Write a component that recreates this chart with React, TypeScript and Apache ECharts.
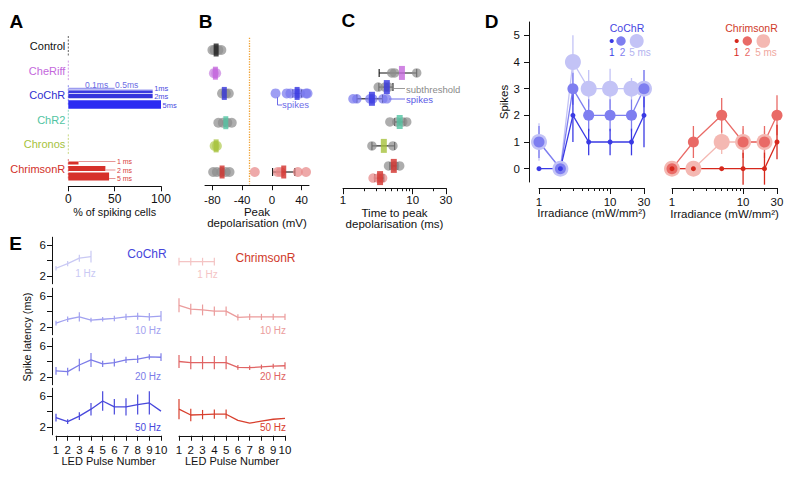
import React, { useEffect, useRef } from "react";
import * as echarts from "echarts";

const FONT = '"Liberation Sans", Arial, Helvetica, sans-serif';
const lg = (v: number) => Math.log10(v);

/* ======================= DATA ======================= */
// Panel A – % of spiking cells
const constructs = ["Control", "CheRiff", "CoChR", "ChR2", "Chronos", "ChrimsonR"];
const spikingPctTicks = [0, 50, 100];
const cochrPulseLabels = ["0.1ms", "0.5ms", "1ms", "2ms", "5ms"];
const cochrSpikingPct = [50, 91, 91, 91, 100];
const chrimsonPulseLabels = ["1 ms", "2 ms", "5 ms"];
const chrimsonSpikingPct = [11, 40, 44];

// Panel B – peak depolarisation (mV)
const peakTicks = [-80, -40, 0, 40];
const spikeThresholdMV = -30;
const peakCellsControl = [-80, -77, -72, -68];
const peakCellsCheRiff = [-78, -75];
const peakCellsCoChR = [-67, -62, -58];
const peakCellsChR2 = [-72, -66, -60, -54];
const peakCellsChronos = [-77, -74];
const peakCellsChrimsonR = [-79, -74, -68, -62, -57];
const peakMean = [-75, -76, -64, -62, -75, -67];
const cochrSpikePeakCells = [5, 20, 25, 33, 38, 46, 48];
const cochrSpikePeakMean = 34;
const cochrSpikePeakSem = [28, 40];
const chrimsonSpikePeakCells = [-23, 8, 12, 35, 46];
const chrimsonSpikePeakMean = 16;
const chrimsonSpikePeakSem = [1, 31];

// Panel C – time to peak depolarisation (ms)
const timeGroups = ["CheRiff", "CoChR subthreshold", "CoChR spikes", "ChR2", "Chronos", "ChrimsonR subthreshold", "ChrimsonR spikes"];
const timeCells = [
  [5.0, 5.5, 11.4],
  [3.2, 4.0, 4.5],
  [1.39, 1.58, 2.43, 2.68, 3.73, 4.25],
  [4.7, 5.9, 7.2, 8.2],
  [2.6, 5.2],
  [4.5, 5.5, 6.5],
  [2.7, 3.2, 3.7],
];
const timeMean = [7.0, 4.25, 2.6, 6.5, 3.85, 5.35, 3.4];
const timeLow = [3.3, 3.27, 1.58, 5.5, 2.6, 4.7, 2.86];
const timeHigh = [11.4, 5.2, 3.7, 7.7, 5.5, 6.1, 3.85];
const logTickLabels = [1, 10, 30];
const logMinorTicks = [2, 3, 4, 5, 6, 7, 8, 9, 20];

// Panel D – spikes vs irradiance
const spikeTicks = [0, 1, 2, 3, 4, 5];
const irradianceCoChR = [1, 2, 3, 5, 10, 20, 30];
const cochrSpikes1ms = [0, 0, 2, 1, 1, 1, 2];
const cochrSpikes1msErr = [0, 0, 1, 0.5, 0.5, 0.5, 1.2];
const cochrSpikes2ms = [1, 0, 3, 2, 2, 2, 3];
const cochrSpikes2msErr = [0.6, 0, 0.6, 0.6, 0.6, 0.6, 0.7];
const cochrSpikes5ms = [1, 0, 4, 3, 3, 3, 3];
const cochrSpikes5msErr = [0.7, 0, 1, 0.7, 0.75, 0.4, 0.7];
const irradianceChrimson = [1, 2, 5, 10, 20, 30];
const chrimsonSpikes1ms = [0, 0, 0, 0, 0, 1];
const chrimsonSpikes1msErr = [0, 0, 0, 0.6, 0.6, 0.65];
const chrimsonSpikes2ms = [0, 1, 2, 1, 1, 2];
const chrimsonSpikes2msErr = [0, 0.6, 0.65, 0.6, 0.6, 0.75];
const chrimsonSpikes5ms = [0, 0, 1, 1, 1, null];
const chrimsonSpikes5msErr = [0, 0, 0.45, 0.5, 0.4, 0];

// Panel E – spike latency (ms) vs LED pulse number
const latencyTicks = [2, 4, 6];
const latencyTickLabels = [2, 6];
const pulseNumbers = [1, 2, 3, 4, 5, 6, 7, 8, 9, 10];
const frequencies = ["1 Hz", "10 Hz", "20 Hz", "50 Hz"];
const cochrLat1Hz = [3.0, 3.6, 4.3, 4.5];
const cochrLat1HzErr = [0.3, 0.35, 0.45, 0.75];
const cochrLat10Hz = [2.5, 3.0, 3.3, 2.9, 3.0, 3.1, 3.3, 3.4, 3.3, 3.4];
const cochrLat10HzErr = [0.3, 0.35, 0.6, 0.3, 0.3, 0.35, 0.4, 0.45, 0.5, 0.65];
const cochrLat20Hz = [2.8, 2.7, 3.55, 4.2, 3.7, 3.85, 4.2, 4.3, 4.6, 4.55];
const cochrLat20HzErr = [0.5, 0.5, 0.8, 0.9, 0.4, 0.5, 0.4, 0.5, 0.35, 0.5];
const cochrLat50Hz = [3.2, 2.7, 3.4, 4.3, 5.35, 4.6, 4.6, 4.9, 5.1, 4.05];
const cochrLat50HzErr = [0.5, 0.3, 0.5, 0.8, 1.25, 1.0, 1.1, 1.3, 1.5, 0];
const chrimsonLat1Hz = [3.85, 3.85, 3.85, 3.85];
const chrimsonLat1HzErr = [0.5, 0.5, 0.5, 0.5];
const chrimsonLat10Hz = [4.8, 4.3, 4.2, 4.05, 4.05, 3.25, 3.3, 3.3, 3.3, 3.3];
const chrimsonLat10HzErr = [0.9, 0.7, 0.7, 0.6, 0.6, 0.4, 0.4, 0.4, 0.4, 0.4];
const chrimsonLat20Hz = [4.0, 3.85, 3.85, 3.85, 3.85, 3.25, 3.2, 3.3, 3.4, 3.45];
const chrimsonLat20HzErr = [0.85, 0.85, 0.85, 0.85, 0.85, 0.3, 0.3, 0.3, 0.3, 0.45];
const chrimsonLat50Hz = [4.3, 3.55, 3.6, 3.65, 3.65, 2.85, 2.5, 2.75, 3.0, 3.1];
const chrimsonLat50HzErr = [1.3, 0.8, 0.6, 0.6, 0.6, 0, 0, 0, 0, 0];

/* ======================= STYLE / LAYOUT ======================= */
const INK = "#111";
const constructColors = ["#1c1c1c", "#c467dc", "#3434d8", "#52c4a2", "#a6c23c", "#d2302a"];
const constructLabelColors = ["#111", "#c467dc", "#3030d0", "#52c4a2", "#a6c23c", "#d2302a"];
const rowDashColors = ["#666", "#d49ae6", "#8c8cee", "#8fd8c2", "#c8d880", "#e08080"];
const peakDotColors = ["#8e8e8e", "#c982e0", "#8e8e8e", "#8e8e8e", "#b3cc55", "#8e8e8e"];
const peakRowPos = [0, 0.95, 1.78, 2.98, 3.93, 5.0];
const GREY_DOT = "#8e8e8e";
const LIGHT_BLUE_DOT = "#7878ee";
const LIGHT_RED_DOT = "#e88888";
const timeRowPos = [0.94, 1.52, 2.0, 2.95, 3.93, 4.75, 5.25];
const timeDotColors = [GREY_DOT, GREY_DOT, LIGHT_BLUE_DOT, GREY_DOT, GREY_DOT, GREY_DOT, LIGHT_RED_DOT];
const timeMeanColors = ["#c467dc", "#3434e0", "#3434e0", "#52c4a2", "#a6c23c", "#d2302a", "#d2302a"];

const cochrBarLayout = [
  { dy: -6.7, h: 1.5, color: "#9c9cf0", labelAt: 18, labelDy: -10.5, labelColor: "#6c6ce4", size: 8.5 },
  { dy: -5.0, h: 1.5, color: "#9c9cf0", labelAt: 50.5, labelDy: -10, labelColor: "#6c6ce4", size: 8.5 },
  { dy: -3.2, h: 2.6, color: "#3a3ae0", labelAt: null, labelDy: -7.2, labelColor: "#4a4ae0", size: 7.5 },
  { dy: 0.9, h: 4.2, color: "#3434dc", labelAt: null, labelDy: 1.6, labelColor: "#4a4ae0", size: 7.5 },
  { dy: 9.3, h: 8.5, color: "#2a2af2", labelAt: null, labelDy: 10.4, labelColor: "#4a4ae0", size: 7.5 },
];
const chrimsonBarLayout = [
  { dy: -6, h: 3, color: "#d6302a", labelAt: 52.5, labelDy: -7.5, labelColor: "#d84040", leader: true, size: 7 },
  { dy: -0.5, h: 5, color: "#d6302a", labelAt: 52.5, labelDy: 1.0, labelColor: "#d84040", leader: true, size: 7 },
  { dy: 7.5, h: 8, color: "#d6302a", labelAt: 52.5, labelDy: 9.5, labelColor: "#d84040", leader: true, size: 7 },
];

const cochrDurColors = ["#3a3ae4", "#7e7ef0", "#c3c3f6"];
const chrimsonDurColors = ["#d6281c", "#e96a66", "#f4b8b2"];
const durSymbolSizes = [5, 11, 16];
const cochrFreqColors = ["#c9c9f4", "#a2a2f0", "#7c7ce8", "#4848dc"];
const chrimsonFreqColors = ["#f4c4c4", "#eb9c9c", "#e06464", "#d8402e"];
const E_TOPS = [237.25, 288.25, 338.25, 388.25];
const E_LABEL_Y = [273.7, 330, 376.7, 427];

/* ======================= HELPERS ======================= */
const f = (size: number, weight = "normal") => `${weight} ${size}px ${FONT}`;
const lineSt = { color: INK, width: 1 };
const nameSt = (size = 11) => ({ color: INK, fontFamily: FONT, fontSize: size, lineHeight: 11 });
const lblSt = (extra: any = {}) => ({ color: INK, fontFamily: FONT, fontSize: 11, ...extra });
const axLine = (show = true) => ({ show, onZero: false, lineStyle: lineSt });
const X = (o: any) => ({ position: "bottom", ...o });
const Y = (o: any) => ({ position: "left", ...o });

const hiddenAxis = (gridIndex: number, min: number, max: number, inverse = false) => ({
  type: "value", gridIndex, min, max, inverse, show: false, position: "left",
  axisLine: axLine(false),
  splitLine: { show: false },
});

const logAxis = (gridIndex: number, name: string, offset: number, margin: number, nameGap: number) => X({
  type: "value", gridIndex, min: 0, max: lg(30), offset,
  axisLine: axLine(true),
  axisTick: { show: true, length: 6, lineStyle: lineSt, customValues: logTickLabels.map(lg) },
  axisLabel: {
    ...lblSt({ fontSize: 11.5, margin }),
    customValues: logTickLabels.map(lg),
    formatter: (v: number) => String(Math.round(Math.pow(10, v))),
  },
  splitLine: { show: false },
  name, nameLocation: "middle", nameGap, nameTextStyle: nameSt(11.5), nameMoveOverlap: false,
});
const minorLogAxis = (gridIndex: number, offset: number) => X({
  type: "value", gridIndex, min: 0, max: lg(30), offset,
  axisLine: axLine(false),
  axisTick: { show: true, length: 3, lineStyle: lineSt, customValues: logMinorTicks.map(lg) },
  axisLabel: { show: false },
  splitLine: { show: false },
});

const hErr = (color: string) => (params: any, api: any) => {
  const a = api.coord([api.value(0), api.value(2)]);
  const b = api.coord([api.value(1), api.value(2)]);
  const st = { stroke: color, lineWidth: 1.1 };
  return {
    type: "group",
    children: [
      { type: "line", shape: { x1: a[0], y1: a[1], x2: b[0], y2: b[1] }, style: st },
      { type: "line", shape: { x1: a[0], y1: a[1] - 4, x2: a[0], y2: a[1] + 4 }, style: st },
      { type: "line", shape: { x1: b[0], y1: b[1] - 4, x2: b[0], y2: b[1] + 4 }, style: st },
    ],
  };
};
const vErr = (color: string, width = 1.2) => (params: any, api: any) => {
  const a = api.coord([api.value(0), api.value(1)]);
  const b = api.coord([api.value(0), api.value(2)]);
  return { type: "line", shape: { x1: a[0], y1: a[1], x2: b[0], y2: b[1] }, style: { stroke: color, lineWidth: width } };
};
const errData = (xs: number[], ys: (number | null)[], es: number[], tx = (v: number) => v) =>
  xs.map((x, i) => (ys[i] == null || !es[i] ? null : [tx(x), (ys[i] as number) - es[i], (ys[i] as number) + es[i]]))
    .filter(Boolean);
const lineData = (xs: number[], ys: (number | null)[], tx = (v: number) => v) =>
  xs.map((x, i) => (ys[i] == null ? null : [tx(x), ys[i]])).filter(Boolean);

const txt = (text: string, x: number, y: number, size: number, fill: string, align = "center", extra: any = {}) => ({
  type: "text", x, y, silent: true,
  style: { text, fill, font: f(size, extra.weight || "normal"), align, textAlign: align, verticalAlign: "middle", textVerticalAlign: "middle" },
  ...(extra.rotation ? { rotation: extra.rotation } : {}),
});

/* ======================= OPTION ======================= */
function buildOption() {
  const grids: any[] = [
    { left: 68.3, top: 33.7, width: 92.7, height: 147.6 },
    { left: 205, top: 37.8, width: 104, height: 146.4 },
    { left: 343, top: 37.8, width: 103, height: 146.4 },
    { left: 343, top: 37.8, width: 103, height: 146.4 },
    { left: 539, top: 22, width: 105, height: 160 },
    { left: 539, top: 22, width: 105, height: 160 },
    { left: 672, top: 22, width: 105, height: 160 },
    { left: 672, top: 22, width: 105, height: 160 },
    ...E_TOPS.map((t) => ({ left: 56, top: t, width: 105, height: 46.5 })),
    ...E_TOPS.map((t) => ({ left: 179, top: t, width: 106, height: 46.5 })),
  ].map((g) => ({ ...g, containLabel: false, outerBoundsMode: "none", show: false }));

  const xAxis: any[] = [
    X({
      type: "value", gridIndex: 0, min: 0, max: 100, interval: 50, offset: 5,
      axisLine: axLine(true),
      axisTick: { show: true, length: 5, lineStyle: lineSt },
      axisLabel: lblSt({ fontSize: 12, margin: 7, customValues: spikingPctTicks }),
      splitLine: { show: false },
      name: "% of spiking cells", nameLocation: "middle", nameGap: 20, nameTextStyle: nameSt(10.8), nameMoveOverlap: false,
    }),
    X({
      type: "value", gridIndex: 1, min: -90, max: 50, offset: 1,
      axisLine: axLine(true),
      axisTick: { show: true, length: 5, lineStyle: lineSt, customValues: peakTicks },
      axisLabel: { ...lblSt({ fontSize: 11.5, margin: 9 }), customValues: peakTicks },
      splitLine: { show: false },
      name: "Peak\ndepolarisation (mV)", nameLocation: "middle", nameGap: 21, nameTextStyle: nameSt(11.5), nameMoveOverlap: false,
    }),
    logAxis(2, "Time to peak\ndepolarisation (ms)", 4, 6, 19),
    minorLogAxis(3, 4),
    logAxis(4, "Irradiance (mW/mm²)", 6, 8, 19),
    minorLogAxis(5, 6),
    logAxis(6, "Irradiance (mW/mm²)", 6, 8, 20),
    minorLogAxis(7, 6),
  ];
  for (let k = 0; k < 8; k++) {
    const bottom = k === 3 || k === 7;
    xAxis.push(X({
      type: "value", gridIndex: 8 + k, min: 1, max: 10, interval: 1, offset: 1,
      show: bottom,
      axisLine: axLine(true),
      axisTick: { show: true, length: 5, lineStyle: lineSt },
      axisLabel: lblSt({ fontSize: 11.5, margin: 8 }),
      splitLine: { show: false },
      ...(bottom ? { name: "LED Pulse Number", nameLocation: "middle", nameGap: 20, nameTextStyle: nameSt(11), nameMoveOverlap: false } : {}),
    }));
  }

  const yAxis: any[] = [
    Y({
      type: "category", gridIndex: 0, data: constructs, inverse: true,
      axisLine: axLine(false), axisTick: { show: false }, splitLine: { show: false },
      axisLabel: { fontFamily: FONT, fontSize: 11, margin: 3, color: (v: any, i: number) => constructLabelColors[i] },
    }),
    hiddenAxis(1, -0.5, 5.5, true),
    hiddenAxis(2, -0.5, 5.5, true),
    hiddenAxis(3, -0.5, 5.5, true),
    Y({
      type: "value", gridIndex: 4, min: -0.5, max: 5.5, offset: 10,
      axisLine: axLine(true),
      axisTick: { show: true, length: 5, lineStyle: lineSt, customValues: spikeTicks },
      axisLabel: { ...lblSt({ fontSize: 11.5, margin: 9 }), customValues: spikeTicks },
      splitLine: { show: false },
      name: "Spikes", nameLocation: "middle", nameGap: 20, nameTextStyle: nameSt(11.5), nameMoveOverlap: false,
    }),
    hiddenAxis(5, -0.5, 5.5),
    hiddenAxis(6, -0.5, 5.5),
    hiddenAxis(7, -0.5, 5.5),
  ];
  for (let k = 0; k < 8; k++) {
    const left = k < 4;
    yAxis.push(Y({
      type: "value", gridIndex: 8 + k, min: 1, max: 7, offset: 4, show: left,
      axisLine: axLine(true),
      axisTick: { show: true, length: 5, lineStyle: lineSt, customValues: latencyTicks },
      axisLabel: { ...lblSt({ fontSize: 11.5, margin: 6 }), customValues: latencyTickLabels },
      splitLine: { show: false },
    }));
  }

  const series: any[] = [];

  /* ---------- Panel A ---------- */
  series.push({
    type: "custom", xAxisIndex: 0, yAxisIndex: 0, silent: true,
    data: constructs.map((_, i) => [0, i]),
    renderItem: (p: any, api: any) => {
      const pt = api.coord([api.value(0), api.value(1)]);
      return {
        type: "line", shape: { x1: pt[0], y1: pt[1] - 10, x2: pt[0], y2: pt[1] + 10 },
        style: { stroke: rowDashColors[p.dataIndex], lineWidth: 1, lineDash: [2, 1.5] },
      };
    },
  });
  const aBars = [
    ...cochrSpikingPct.map((v, i) => ({ value: v, row: 2, label: cochrPulseLabels[i], st: cochrBarLayout[i] as any })),
    ...chrimsonSpikingPct.map((v, i) => ({ value: v, row: 5, label: chrimsonPulseLabels[i], st: chrimsonBarLayout[i] as any })),
  ];
  series.push({
    type: "custom", xAxisIndex: 0, yAxisIndex: 0, silent: true,
    data: aBars.map((b) => [b.value, b.row]),
    renderItem: (p: any, api: any) => {
      const it = aBars[p.dataIndex];
      const base = api.coord([0, it.row]);
      const end = api.coord([it.value, it.row]);
      const y = base[1] + it.st.dy;
      const ly = base[1] + it.st.labelDy;
      const children: any[] = [
        { type: "rect", shape: { x: base[0], y: y - it.st.h / 2, width: end[0] - base[0], height: it.st.h }, style: { fill: it.st.color } },
      ];
      const lx = it.st.labelAt != null ? api.coord([it.st.labelAt, it.row])[0] : end[0] + 1.5;
      if (it.st.leader) {
        children.push({ type: "line", shape: { x1: end[0], y1: ly, x2: lx - 1.5, y2: ly }, style: { stroke: "#e07a7a", lineWidth: 0.8 } });
      }
      children.push({
        type: "text",
        style: { text: it.label, x: lx, y: ly, fill: it.st.labelColor, font: f(it.st.size), align: "left", verticalAlign: "middle" },
      });
      return { type: "group", children };
    },
  });

  /* ---------- Panel B ---------- */
  const peakCells = [peakCellsControl, peakCellsCheRiff, peakCellsCoChR, peakCellsChR2, peakCellsChronos, peakCellsChrimsonR];
  const bDots: any[] = [];
  peakCells.forEach((cells, r) => cells.forEach((v) => bDots.push({ value: [v, peakRowPos[r]], itemStyle: { color: peakDotColors[r] } })));
  cochrSpikePeakCells.forEach((v) => bDots.push({ value: [v, peakRowPos[2]], itemStyle: { color: LIGHT_BLUE_DOT } }));
  chrimsonSpikePeakCells.forEach((v) => bDots.push({ value: [v, peakRowPos[5]], itemStyle: { color: LIGHT_RED_DOT } }));
  series.push({
    type: "scatter", xAxisIndex: 1, yAxisIndex: 1, silent: true, symbolSize: 10,
    itemStyle: { opacity: 0.72 }, data: bDots,
    markLine: {
      silent: true, symbol: "none", label: { show: false },
      lineStyle: { type: "dotted", color: "#f0a030", width: 1.3 },
      data: [{ xAxis: spikeThresholdMV }],
    },
  });
  series.push({
    type: "custom", xAxisIndex: 1, yAxisIndex: 1, silent: true,
    data: [
      [cochrSpikePeakSem[0], cochrSpikePeakSem[1], peakRowPos[2]],
      [chrimsonSpikePeakSem[0], chrimsonSpikePeakSem[1], peakRowPos[5]],
    ],
    renderItem: hErr(INK),
  });
  const bMeans: any[] = peakMean.map((v, r) => ({ value: [v, peakRowPos[r]], itemStyle: { color: constructColors[r] } }));
  bMeans.push({ value: [cochrSpikePeakMean, peakRowPos[2]], itemStyle: { color: "#3434e0" } });
  bMeans.push({ value: [chrimsonSpikePeakMean, peakRowPos[5]], itemStyle: { color: "#d2302a" } });
  series.push({ type: "scatter", xAxisIndex: 1, yAxisIndex: 1, silent: true, symbol: "rect", symbolSize: [5, 13], data: bMeans });

  /* ---------- Panel C ---------- */
  const cDots: any[] = [];
  timeCells.forEach((cells, g) => cells.forEach((v) => cDots.push({ value: [lg(v), timeRowPos[g]], itemStyle: { color: timeDotColors[g] } })));
  series.push({ type: "scatter", xAxisIndex: 2, yAxisIndex: 2, silent: true, symbolSize: 9.5, itemStyle: { opacity: 0.72 }, data: cDots });
  series.push({
    type: "custom", xAxisIndex: 2, yAxisIndex: 2, silent: true,
    data: timeGroups.map((_, g) => [lg(timeLow[g]), lg(timeHigh[g]), timeRowPos[g]]),
    renderItem: hErr(INK),
  });
  series.push({
    type: "scatter", xAxisIndex: 2, yAxisIndex: 2, silent: true, symbol: "rect", symbolSize: [6, 14],
    data: timeGroups.map((_, g) => ({ value: [lg(timeMean[g]), timeRowPos[g]], itemStyle: { color: timeMeanColors[g] } })),
  });

  /* ---------- Panel D ---------- */
  const dPanels = [
    { ax: 4, xs: irradianceCoChR, colors: cochrDurColors, ys: [cochrSpikes1ms, cochrSpikes2ms, cochrSpikes5ms], es: [cochrSpikes1msErr, cochrSpikes2msErr, cochrSpikes5msErr] },
    { ax: 6, xs: irradianceChrimson, colors: chrimsonDurColors, ys: [chrimsonSpikes1ms, chrimsonSpikes2ms, chrimsonSpikes5ms], es: [chrimsonSpikes1msErr, chrimsonSpikes2msErr, chrimsonSpikes5msErr] },
  ];
  dPanels.forEach((P) => {
    [2, 1, 0].forEach((d) => {
      series.push({
        type: "custom", xAxisIndex: P.ax, yAxisIndex: P.ax, silent: true, clip: false,
        data: errData(P.xs, P.ys[d] as any, P.es[d], lg), renderItem: vErr(P.colors[d], 1.3),
      });
    });
    [2, 1, 0].forEach((d) => {
      series.push({
        type: "line", xAxisIndex: P.ax, yAxisIndex: P.ax, silent: true, clip: false,
        data: lineData(P.xs, P.ys[d] as any, lg),
        symbol: "circle", symbolSize: durSymbolSizes[d], showSymbol: true,
        lineStyle: { color: P.colors[d], width: 1.3 }, itemStyle: { color: P.colors[d], opacity: 1 },
      });
    });
  });

  /* ---------- Panel E ---------- */
  const ePanels = [
    { ys: cochrLat1Hz, es: cochrLat1HzErr, color: cochrFreqColors[0] },
    { ys: cochrLat10Hz, es: cochrLat10HzErr, color: cochrFreqColors[1] },
    { ys: cochrLat20Hz, es: cochrLat20HzErr, color: cochrFreqColors[2] },
    { ys: cochrLat50Hz, es: cochrLat50HzErr, color: cochrFreqColors[3] },
    { ys: chrimsonLat1Hz, es: chrimsonLat1HzErr, color: chrimsonFreqColors[0] },
    { ys: chrimsonLat10Hz, es: chrimsonLat10HzErr, color: chrimsonFreqColors[1] },
    { ys: chrimsonLat20Hz, es: chrimsonLat20HzErr, color: chrimsonFreqColors[2] },
    { ys: chrimsonLat50Hz, es: chrimsonLat50HzErr, color: chrimsonFreqColors[3] },
  ];
  ePanels.forEach((P, k) => {
    const xs = pulseNumbers.slice(0, P.ys.length);
    series.push({
      type: "custom", xAxisIndex: 8 + k, yAxisIndex: 8 + k, silent: true, clip: false,
      data: errData(xs, P.ys, P.es), renderItem: vErr(P.color, 1.2),
    });
    series.push({
      type: "line", xAxisIndex: 8 + k, yAxisIndex: 8 + k, silent: true, clip: false,
      data: lineData(xs, P.ys), symbol: "none", showSymbol: false,
      lineStyle: { color: P.color, width: 1.3 },
    });
  });

  /* ---------- annotations ---------- */
  const graphic: any[] = [
    txt("A", 16.3, 21.7, 19, "#000", "center", { weight: "bold" }),
    txt("B", 205.5, 21.7, 19, "#000", "center", { weight: "bold" }),
    txt("C", 348.3, 20.5, 19, "#000", "center", { weight: "bold" }),
    txt("D", 491.5, 21.7, 19, "#000", "center", { weight: "bold" }),
    txt("E", 15.5, 243.5, 19, "#000", "center", { weight: "bold" }),
    // B annotation
    { type: "polyline", silent: true, shape: { points: [[277.5, 97], [277.5, 105], [282, 105]] }, style: { stroke: "#6c6ce8", lineWidth: 1, fill: null } },
    txt("spikes", 282, 104, 9.5, "#6c6ce8", "left"),
    // C annotations
    { type: "line", silent: true, shape: { x1: 394, y1: 88.5, x2: 405, y2: 88.5 }, style: { stroke: "#9a9a9a", lineWidth: 1 } },
    txt("subthreshold", 406, 89, 9.5, "#8a8a8a", "left"),
    { type: "line", silent: true, shape: { x1: 389, y1: 99, x2: 405, y2: 99 }, style: { stroke: "#6c6ce8", lineWidth: 1 } },
    txt("spikes", 406, 99.3, 9.5, "#5a5ae6", "left"),
    // D legends
    txt("CoChR", 627, 28, 10.5, "#4646e2", "center"),
    { type: "circle", silent: true, shape: { cx: 636.7, cy: 41, r: 7 }, style: { fill: cochrDurColors[2] } },
    { type: "circle", silent: true, shape: { cx: 621, cy: 41, r: 4.7 }, style: { fill: cochrDurColors[1] } },
    { type: "circle", silent: true, shape: { cx: 611.7, cy: 41, r: 2.1 }, style: { fill: cochrDurColors[0] } },
    txt("1", 611.7, 52.5, 10, cochrDurColors[0]),
    txt("2", 622.5, 52.5, 10, cochrDurColors[1]),
    txt("5 ms", 640, 52.5, 10, "#b4b4f0"),
    txt("ChrimsonR", 751.5, 28, 10.5, "#d03a2a", "center"),
    { type: "circle", silent: true, shape: { cx: 763.3, cy: 41, r: 6.8 }, style: { fill: chrimsonDurColors[2] } },
    { type: "circle", silent: true, shape: { cx: 747.3, cy: 41, r: 4.7 }, style: { fill: chrimsonDurColors[1] } },
    { type: "circle", silent: true, shape: { cx: 736.7, cy: 41, r: 2.1 }, style: { fill: chrimsonDurColors[0] } },
    txt("1", 736.5, 52.5, 10, chrimsonDurColors[0]),
    txt("2", 747.5, 52.5, 10, chrimsonDurColors[1]),
    txt("5 ms", 766, 52.5, 10, "#f0a8a0"),
    // E labels
    txt("CoChR", 147, 254, 12, "#4646dc", "center"),
    txt("ChrimsonR", 265.5, 258, 12, "#d03a2a", "center"),
    txt("Spike latency (ms)", 26.7, 337, 10.8, INK, "center", { rotation: Math.PI / 2 }),
  ];
  frequencies.forEach((fq, k) => {
    const y = E_LABEL_Y[k];
    if (k === 0) {
      graphic.push(txt(fq, 85.5, y, 10, cochrFreqColors[0], "center"));
      graphic.push(txt(fq, 207.5, y + 0.5, 10, chrimsonFreqColors[0], "center"));
    } else {
      graphic.push(txt(fq, 161, y, 10, cochrFreqColors[k], "right"));
      graphic.push(txt(fq, 286, y, 10, chrimsonFreqColors[k], "right"));
    }
  });

  return {
    animation: false,
    backgroundColor: "#ffffff",
    textStyle: { fontFamily: FONT },
    grid: grids,
    xAxis,
    yAxis,
    series,
    graphic,
  };
}

export default function App() {
  const ref = useRef<HTMLDivElement>(null);
  useEffect(() => {
    if (!ref.current) return;
    const chart = echarts.init(ref.current, undefined, { renderer: "svg" });
    chart.setOption(buildOption() as any);
    return () => chart.dispose();
  }, []);
  return (
    <div
      ref={ref}
      style={{ position: "absolute", left: 0, top: 0, width: 798, height: 485, background: "#fff" }}
    />
  );
}
